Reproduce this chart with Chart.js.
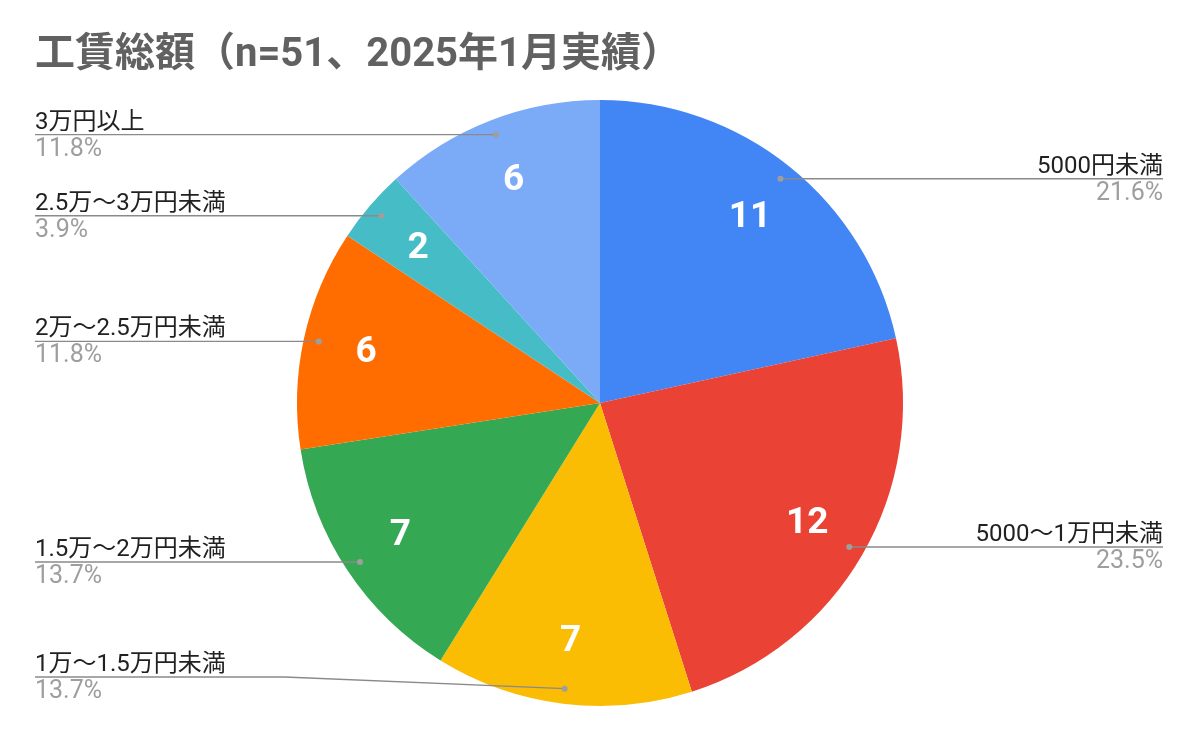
<!DOCTYPE html>
<html lang="ja">
<head>
<meta charset="utf-8">
<title>工賃総額</title>
<script src="https://cdn.jsdelivr.net/npm/chart.js@4.4.1/dist/chart.umd.min.js"></script>
<style>
  html, body { margin: 0; padding: 0; background: #fff; }
  #wrap { width: 1200px; height: 738px; position: relative; }
</style>
</head>
<body>
<div id="wrap"><canvas id="wageChart" width="1200" height="738"></canvas></div>
<script>
/* ---------- data ---------- */
const chartTitle = '工賃総額（n=51、2025年1月実績）';
const categories = [
  '5000円未満',
  '5000〜1万円未満',
  '1万〜1.5万円未満',
  '1.5万〜2万円未満',
  '2万〜2.5万円未満',
  '2.5万〜3万円未満',
  '3万円以上'
];
const counts = [11, 12, 7, 7, 6, 2, 6];
const sliceColors = ['#4285f4', '#ea4335', '#fbbc04', '#34a853', '#ff6d01', '#46bdc6', '#7baaf7'];

/* ---------- style ---------- */
const FONT = "Roboto, 'Noto Sans CJK JP', sans-serif";
const LEFT_X = 35;
const RIGHT_X = 1163;
const LABEL_BOTTOM = 677;   // lowest allowed leader line
const ELBOW = 280;          // horizontal run before a bent leader

const total = counts.reduce((a, b) => a + b, 0);

/* title + slice values + outside labels with leader lines */
const pieLabels = {
  id: 'pieLabels',
  afterDraw(chart) {
    const ctx = chart.ctx;
    ctx.save();

    // title
    ctx.font = "bold 40px " + FONT;
    ctx.fillStyle = '#616161';
    ctx.textAlign = 'left';
    ctx.textBaseline = 'alphabetic';
    ctx.fillText(chartTitle, LEFT_X, 66);

    const arcs = chart.getDatasetMeta(0).data;
    arcs.forEach((arc, i) => {
      const p = arc.getProps(['x', 'y', 'startAngle', 'endAngle', 'outerRadius'], true);
      const mid = (p.startAngle + p.endAngle) / 2;
      const cos = Math.cos(mid), sin = Math.sin(mid);

      // value inside the slice
      ctx.font = "bold 37px " + FONT;
      ctx.fillStyle = '#ffffff';
      ctx.textAlign = 'center';
      ctx.textBaseline = 'middle';
      const vr = p.outerRadius * 0.79;
      ctx.fillText(String(counts[i]), p.x + cos * vr, p.y + sin * vr + 1);

      // leader line
      const dr = p.outerRadius * 0.95;
      const dx = p.x + cos * dr;
      const dy = p.y + sin * dr;
      const right = cos > 0;
      const ly = Math.min(dy, LABEL_BOTTOM);
      const endX = right ? RIGHT_X : LEFT_X;

      ctx.strokeStyle = '#8a8a8a';
      ctx.lineWidth = 1.4;
      ctx.beginPath();
      ctx.moveTo(dx, dy);
      if (Math.abs(ly - dy) > 0.5) {
        ctx.lineTo(right ? dx + ELBOW : dx - ELBOW, ly);
      }
      ctx.lineTo(endX, ly);
      ctx.stroke();

      ctx.fillStyle = '#9e9e9e';
      ctx.beginPath();
      ctx.arc(dx, dy, 3, 0, Math.PI * 2);
      ctx.fill();

      // category name above, share below
      ctx.textAlign = right ? 'right' : 'left';
      ctx.textBaseline = 'alphabetic';
      ctx.font = "24px " + FONT;
      ctx.fillStyle = '#212121';
      ctx.fillText(categories[i], endX, ly - 6);
      ctx.font = "25px " + FONT;
      ctx.fillStyle = '#9e9e9e';
      ctx.fillText((counts[i] / total * 100).toFixed(1) + '%', endX, ly + 21);
    });

    ctx.restore();
  }
};

new Chart(document.getElementById('wageChart'), {
  type: 'pie',
  data: {
    labels: categories,
    datasets: [{
      data: counts,
      backgroundColor: sliceColors,
      borderWidth: 0,
      hoverOffset: 0,
      offset: 0
    }]
  },
  options: {
    responsive: false,
    animation: false,
    layout: { padding: { top: 100, bottom: 32, left: 0, right: 0 } },
    plugins: {
      legend: { display: false },
      tooltip: { enabled: false },
      title: { display: false }
    }
  },
  plugins: [pieLabels]
});
</script>
</body>
</html>
